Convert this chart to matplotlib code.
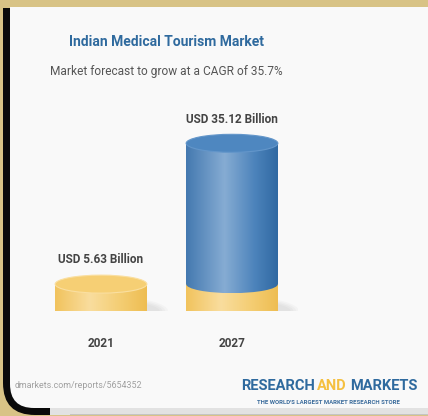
import numpy as np
import matplotlib
matplotlib.use('Agg')
import matplotlib.pyplot as plt
from matplotlib.patches import Ellipse, Rectangle, PathPatch
from matplotlib.path import Path
from matplotlib.colors import LinearSegmentedColormap

plt.rcParams['font.family'] = ['Roboto', 'DejaVu Sans']

# chart data
years = ['2021', '2027']
values = [5.63, 35.12]
base = [0, 5.63]   # 2027 cylinder sits on the 2021 value (yellow part)
labels = ['USD 5.63 Billion', 'USD 35.12 Billion']
title = 'Indian Medical Tourism Market'
subtitle = 'Market forecast to grow at a CAGR of 35.7%'
source = 'dmarkets.com/reports/5654352'

W, H = 428, 416
fig = plt.figure(figsize=(W / 100, H / 100), dpi=100)
fig.patch.set_facecolor('#d8c386')

# background layer in pixel coords
bg = fig.add_axes([0, 0, 1, 1])
bg.set_xlim(0, W)
bg.set_ylim(H, 0)
bg.axis('off')

codes = [Path.MOVETO, Path.LINETO, Path.LINETO, Path.LINETO,
         Path.CURVE3, Path.CURVE3, Path.CLOSEPOLY]
# gray strip under the card, then the black frame on the left
bg.add_patch(Rectangle((40, 408), 400, 7, fc='#e2e2e2', ec='none', zorder=1))
bg.add_patch(Rectangle((40, 413.5), 400, 1.5, fc='#c4c4c4', ec='none', zorder=1))
R = 32
black = Path([(3, 8), (60, 8), (60, 415), (3 + R, 415), (3, 415), (3, 415 - R), (3, 8)], codes)
bg.add_patch(PathPatch(black, fc='#0a0a0a', ec='none', zorder=1.5))
bg.add_patch(Rectangle((50, 408), 20, 7, fc='#e2e2e2', ec='none', zorder=1.6))
r = 24
card_path = Path([(10, 7), (440, 7), (440, 408), (10 + r, 408), (10, 408), (10, 408 - r), (10, 7)], codes)
card = PathPatch(card_path, fc='#f9f9f9', ec='none', zorder=2)
bg.add_patch(card)

bg.text(167, 42, title, ha='center', va='center', fontsize=10, fontweight='bold',
        color='#2f6a9e', zorder=5)
bg.text(166, 72, subtitle, ha='center', va='center', fontsize=8.6, color='#555555', zorder=5)
bg.text(15, 386, source, ha='left', va='center', fontsize=6.4, color='#a0a0a0', zorder=5)

bg.text(315, 386, 'RESEARCH', ha='right', va='center', fontsize=10.5, fontweight='bold',
        color='#2f6a9e', zorder=5)
bg.text(332, 386, 'AND', ha='center', va='center', fontsize=10.5, fontweight='bold',
        color='#f5c040', zorder=5)
bg.text(350, 386, 'MARKETS', ha='left', va='center', fontsize=10.5, fontweight='bold',
        color='#2f6a9e', zorder=5)
bg.text(328, 403, "THE WORLD'S LARGEST MARKET RESEARCH STORE", ha='center', va='center',
        fontsize=4.3, fontweight='bold', color='#3b6c9c', zorder=5)

# cylinder chart
ax = fig.add_axes([35.5 / W, (H - 311) / H, 262 / W, 191 / H])
ax.patch.set_alpha(0)
for s in ax.spines.values():
    s.set_visible(False)

bw = 0.70
ry = 9 / (191 / 40)

blue = LinearSegmentedColormap.from_list('b', [(0, '#4479b0'), (0.42, '#86acd3'),
                                                (0.75, '#4c83bb'), (1, '#3069a2')])
yellow = LinearSegmentedColormap.from_list('y', [(0, '#f1c35d'), (0.38, '#f9dd9e'),
                                                  (0.72, '#f4cd72'), (1, '#eebd52')])
grad = np.linspace(0, 1, 256).reshape(1, -1)


def side(x, y0, y1, cmap, z):
    x0, x1 = x - bw / 2, x + bw / 2
    rect = Rectangle((x0, y0), bw, y1 - y0, transform=ax.transData)
    ell = Ellipse((x, y0), bw, 2 * ry, transform=ax.transData)
    for clip in (rect, ell):
        im = ax.imshow(grad, cmap=cmap, extent=(x0, x1, y0 - ry, y1), aspect='auto',
                       origin='lower', zorder=z, interpolation='bicubic')
        im.set_clip_path(clip)


def top(x, y, fc, ec, z):
    ax.add_patch(Ellipse((x, y), bw, 2 * ry, fc=fc, ec=ec, lw=0.8, zorder=z))


for i, (b, v) in enumerate(zip(base, values)):
    # soft shadow
    for k in range(4):
        ax.add_patch(Ellipse((i + 0.08, 0), bw * (1.05 + 0.06 * k), 2 * ry * (1.1 + 0.15 * k),
                             fc='#888888', ec='none', alpha=0.05, zorder=1))
    if b > 0:
        side(i, 0, b, yellow, 2)
        side(i, b, v, blue, 3)
        top(i, v, '#4e87c0', '#6396ca', 4)
    else:
        side(i, 0, v, yellow, 2)
        top(i, v, '#f6cf74', '#fadfa0', 4)
    ax.annotate(labels[i], xy=(i, v + ry), xytext=(0, 11), textcoords='offset points',
                ha='center', va='center', fontsize=8.5, fontweight='bold', color='#444444')

ax.set_xlim(-0.5, 1.5)
ax.set_ylim(0, 40)
ax.set_yticks([])
ax.set_xticks(range(len(years)), years)
ax.tick_params(axis='x', length=0, pad=19, labelsize=8.5, labelcolor='#444444')
for t in ax.get_xticklabels():
    t.set_fontweight('bold')

fig.savefig('out.png', dpi=100, facecolor=fig.get_facecolor())
